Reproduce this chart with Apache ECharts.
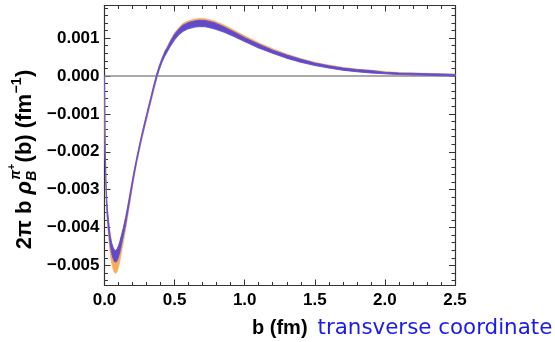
<!DOCTYPE html>
<html>
<head>
<meta charset="utf-8">
<script src="https://cdn.jsdelivr.net/npm/echarts@6/dist/echarts.min.js"></script>
<style>
html,body{margin:0;padding:0;background:#fff;}
#chart{width:555px;height:342px;}
</style>
</head>
<body>
<div id="chart"></div>
<script>
// ---- data ----
var bValues = [0, 0.003, 0.006, 0.01, 0.015, 0.02, 0.03, 0.04, 0.05, 0.06, 0.07, 0.08, 0.09, 0.1, 0.11, 0.12, 0.135, 0.15, 0.17, 0.19, 0.21, 0.23, 0.25, 0.27, 0.29, 0.31, 0.33, 0.35, 0.372, 0.39, 0.41, 0.43, 0.45, 0.47, 0.5, 0.53, 0.56, 0.6, 0.64, 0.68, 0.72, 0.78, 0.85, 0.92, 1.0, 1.1, 1.2, 1.3, 1.4, 1.5, 1.6, 1.7, 1.8, 1.9, 2.0, 2.1, 2.2, 2.3, 2.4, 2.5];
var blueLow = [0, -0.00133, -0.00215, -0.00287, -0.00338, -0.0037, -0.00411, -0.00444, -0.00466, -0.0048, -0.00489, -0.00491, -0.00487, -0.00477, -0.00463, -0.00446, -0.0042, -0.00393, -0.0035, -0.00306, -0.00263, -0.00224, -0.00189, -0.00156, -0.00125, -0.00095, -0.00065, -0.00035, -0.00004, 0.00017, 0.00037, 0.00053, 0.00066, 0.00079, 0.00096, 0.00109, 0.00118, 0.00125, 0.00129, 0.00131, 0.0013, 0.00125, 0.00116, 0.00105, 0.00091, 0.00074, 0.0006, 0.00047, 0.00036, 0.00028, 0.00021, 0.00015, 0.00011, 0.00008, 0.00006, 0.00004, 0.00003, 0.00002, 0.00001, 0];
var blueHigh = [0, -0.00127, -0.00205, -0.00273, -0.00322, -0.0035, -0.00389, -0.0042, -0.0044, -0.00452, -0.00459, -0.00461, -0.00457, -0.00449, -0.00437, -0.00422, -0.004, -0.00375, -0.00336, -0.00294, -0.00253, -0.00216, -0.00181, -0.00148, -0.00117, -0.00087, -0.00057, -0.00027, 0.00004, 0.00025, 0.00045, 0.00063, 0.00076, 0.00091, 0.0011, 0.00123, 0.00134, 0.00141, 0.00145, 0.00147, 0.00146, 0.00141, 0.0013, 0.00117, 0.00101, 0.00084, 0.00068, 0.00055, 0.00044, 0.00034, 0.00027, 0.00021, 0.00017, 0.00014, 0.0001, 0.00008, 0.00007, 0.00006, 0.00005, 0.00004];
var orangeLow = [0, -0.00136, -0.0022, -0.00294, -0.00348, -0.00382, -0.00428, -0.00465, -0.00491, -0.00508, -0.00518, -0.00521, -0.00516, -0.00505, -0.00488, -0.00468, -0.00438, -0.00407, -0.00361, -0.00315, -0.0027, -0.0023, -0.00195, -0.00162, -0.00131, -0.00101, -0.00071, -0.00041, -0.00008, 0.00017, 0.00038, 0.00055, 0.00068, 0.00081, 0.00099, 0.00112, 0.00121, 0.00128, 0.00132, 0.00134, 0.00133, 0.00128, 0.00119, 0.00107, 0.00093, 0.00076, 0.00061, 0.00048, 0.00038, 0.00029, 0.00022, 0.00016, 0.00012, 0.00009, 0.00006, 0.00004, 0.00003, 0.00002, 0.00001, 0];
var orangeHigh = [0, -0.00127, -0.00205, -0.00273, -0.00322, -0.0035, -0.00389, -0.0042, -0.0044, -0.00452, -0.00459, -0.00461, -0.00457, -0.00449, -0.00437, -0.00422, -0.004, -0.00375, -0.00336, -0.00294, -0.00253, -0.00216, -0.00181, -0.00148, -0.00117, -0.00087, -0.00057, -0.00027, 0.00005, 0.00027, 0.00048, 0.00066, 0.0008, 0.00095, 0.00114, 0.00128, 0.00139, 0.00146, 0.0015, 0.00152, 0.00151, 0.00146, 0.00135, 0.00122, 0.00106, 0.00088, 0.00072, 0.00058, 0.00046, 0.00036, 0.00029, 0.00023, 0.00018, 0.00015, 0.00012, 0.00009, 0.00008, 0.00007, 0.00006, 0.00005];
var zeroLine = [[0, 0], [2.5, 0]];
var xTicks = [0, 0.5, 1.0, 1.5, 2.0, 2.5];
var yTicks = [-0.005, -0.004, -0.003, -0.002, -0.001, 0, 0.001];
var yMin = -0.00553, yMax = 0.00186;

// minor y ticks every 0.0002 (not on majors)
var yMinor = [];
for (var k = -27; k <= 9; k++) {
  if (k % 5 !== 0) yMinor.push(+(k * 0.0002).toFixed(5));
}

var FRAME = '#333333';
var F = 'Liberation Sans, Arial, sans-serif';
var labelFont = {fontFamily: F, fontWeight: 'bold', fontSize: 17, color: '#000'};

function yFmt(v) {
  var s = Math.abs(v).toFixed(3);
  return (v < -1e-9 ? '\u2212' : '') + s;
}

var chart = echarts.init(document.getElementById('chart'), null, {renderer: 'canvas'});

// band drawn as a polygon through the axes' own scales (api.coord)
function bandSeries(name, lo, hi, fill, stroke, lw, z) {
  return {
    type: 'custom', name: name, coordinateSystem: 'cartesian2d', z: z,
    data: [[0, 0]],
    renderItem: function (params, api) {
      var pts = [];
      for (var i = 0; i < bValues.length; i++) pts.push(api.coord([bValues[i], lo[i]]));
      for (var j = bValues.length - 1; j >= 0; j--) pts.push(api.coord([bValues[j], hi[j]]));
      return {type: 'polygon', shape: {points: pts},
        style: {fill: fill, stroke: stroke, lineWidth: lw, lineJoin: 'round'}};
    }
  };
}

// measure helper for the y title layout
var mctx = document.createElement('canvas').getContext('2d');
function tw(text, font) { mctx.font = font; return mctx.measureText(text).width; }

var mainF = 'bold 22px ' + F, mainFI = 'italic bold 22px ' + F, subF = 'italic bold 14px ' + F, supF = 'bold 14px ' + F, tinyF = 'bold 10px ' + F;
var p1 = '2\u03c0 b ', p2 = '\u03c1', p4 = '(b) (fm', p5 = '\u22121', p6 = ')';
var w1 = tw(p1, mainF), w2 = tw(p2, mainFI), w3 = Math.max(tw('B', subF), tw('\u03c0', subF) + tw('+', tinyF)) + 3, w4 = tw(p4, mainF), w5 = tw(p5, supF), w6 = tw(p6, mainF);
var W = w1 + w2 + w3 + w4 + w5 + w6;
var x0 = -W / 2;
function tx(text, x, y, font, color) {
  return {type: 'text', x: x, y: y, style: {text: text, font: font, fill: color || '#000', textVerticalAlign: 'middle', textAlign: 'left'}};
}
var ytitleChildren = [
  tx(p1, x0, 0, mainF),
  tx(p2, x0 + w1, 0, mainFI),
  tx('B', x0 + w1 + w2 + 0.5, 7, subF),
  tx('\u03c0', x0 + w1 + w2 + 1.5, -9, subF),
  tx('+', x0 + w1 + w2 + 1.5 + tw('\u03c0', subF), -13, tinyF),
  tx(p4, x0 + w1 + w2 + w3, 0, mainF),
  tx(p5, x0 + w1 + w2 + w3 + w4 + 0.5, -8, supF),
  tx(p6, x0 + w1 + w2 + w3 + w4 + w5 + 1, 0, mainF)
];

var tickCommon = {show: true, inside: true, length: 6, lineStyle: {color: FRAME, width: 1}};
var minorCommon = {show: true, splitNumber: 5, length: 3.5, lineStyle: {color: FRAME, width: 1}};

var option = {
  animation: false,
  backgroundColor: '#fff',
  grid: {left: 104.5, right: 100, top: 5.5, bottom: 56.5, containLabel: false},
  xAxis: [
    {type: 'value', position: 'bottom', offset: 0, min: 0, max: 2.5, interval: 0.5,
      axisLine: {show: true, onZero: false, lineStyle: {color: FRAME, width: 1.2}},
      axisTick: tickCommon, minorTick: minorCommon, splitLine: {show: false}, minorSplitLine: {show: false},
      axisLabel: Object.assign({margin: 6, formatter: function (v) { return v.toFixed(1); }, customValues: xTicks}, labelFont)},
    {type: 'value', position: 'top', offset: 0, min: 0, max: 2.5, interval: 0.5,
      axisLine: {show: true, onZero: false, lineStyle: {color: FRAME, width: 1.2}},
      axisTick: tickCommon, minorTick: minorCommon, splitLine: {show: false}, axisLabel: {show: false}}
  ],
  yAxis: [
    {type: 'value', position: 'left', offset: 0, min: yMin, max: yMax,
      axisLine: {show: true, onZero: false, lineStyle: {color: FRAME, width: 1.2}},
      axisTick: Object.assign({customValues: yTicks}, tickCommon), splitLine: {show: false},
      axisLabel: Object.assign({margin: 5, formatter: yFmt, customValues: yTicks}, labelFont)},
    {type: 'value', position: 'right', offset: 0, min: yMin, max: yMax,
      axisLine: {show: true, onZero: false, lineStyle: {color: FRAME, width: 1.2}},
      axisTick: Object.assign({customValues: yTicks}, tickCommon), splitLine: {show: false},
      axisLabel: {show: false}},
    {type: 'value', position: 'left', offset: 0, min: yMin, max: yMax,
      axisLine: {show: false, onZero: false},
      axisTick: {show: true, inside: true, length: 3.5, customValues: yMinor, lineStyle: {color: FRAME, width: 1}},
      splitLine: {show: false}, axisLabel: {show: false}},
    {type: 'value', position: 'right', offset: 0, min: yMin, max: yMax,
      axisLine: {show: false, onZero: false},
      axisTick: {show: true, inside: true, length: 3.5, customValues: yMinor, lineStyle: {color: FRAME, width: 1}},
      splitLine: {show: false}, axisLabel: {show: false}}
  ],
  series: [
    {type: 'line', name: 'zero', data: zeroLine, symbol: 'none', z: 1,
      lineStyle: {color: '#8c8c8c', width: 1.6}},
    bandSeries('orange', orangeLow, orangeHigh, '#f9ab58', '#f9b46a', 0.8, 2),
    bandSeries('blue', blueLow, blueHigh, 'rgba(86,64,204,0.92)', 'rgba(98,80,214,0.9)', 1.1, 3)
  ],
  graphic: [
    {type: 'group', x: 25, y: 160, rotation: Math.PI / 2, children: ytitleChildren},
    {type: 'text', left: 252, top: 318,
      style: {rich: {a: {fontFamily: F, fontWeight: 'bold', fontSize: 20, fill: '#000'},
                     b: {fontFamily: 'DejaVu Sans, sans-serif', fontSize: 21.4, fill: '#1a1af0', padding: [0, 0, 0, 10]}},
        text: '{a|b (fm)}{b|transverse coordinate}'}}
  ]
};
chart.setOption(option);
</script>
</body>
</html>
